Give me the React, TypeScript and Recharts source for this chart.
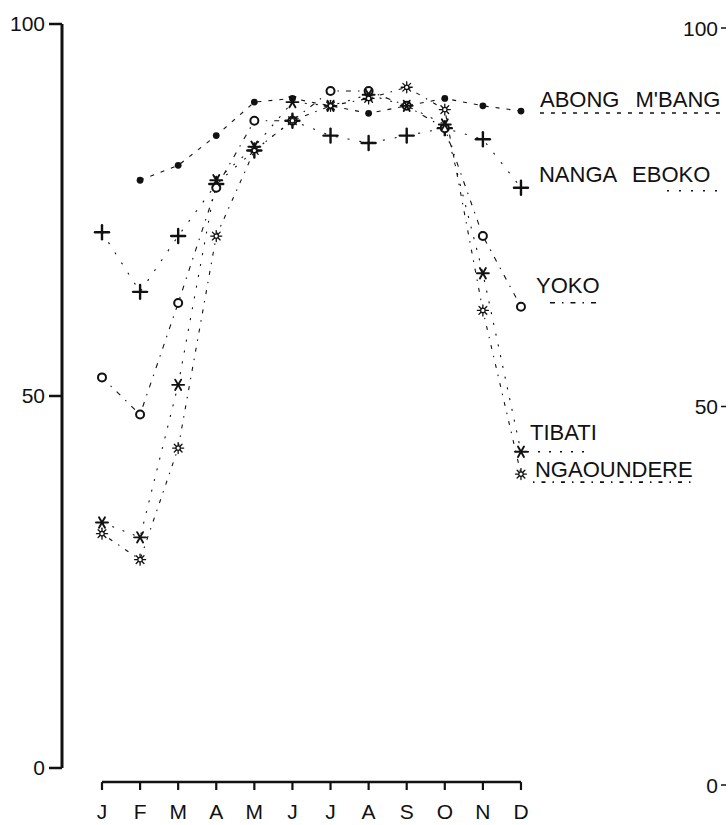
import { LineChart, Line, XAxis, YAxis, ReferenceLine, LabelList } from 'recharts';

const MONTHS = ['J', 'F', 'M', 'A', 'M', 'J', 'J', 'A', 'S', 'O', 'N', 'D'];

// monthly values (%) per station
const ABONG = [null, 79, 81, 85, 89.5, 90, 89, 88, 89, 90, 89, 88.3];
const NANGA = [72, 64, 71.5, 78.5, 83, 87, 85, 84, 85, 86, 84.5, 78];
const YOKO = [52.5, 47.5, 62.5, 78, 87, 87, 91, 91, 89, 86, 71.5, 62];
const TIBATI = [33, 31, 51.5, 79, 83.5, 89.5, 89, 90.5, 89, 86.5, 66.5, 42.5];
const NGAOUNDERE = [31.5, 28, 43, 71.5, 83, 87, 89, 90, 91.5, 88.5, 61.5, 39.5];

const Y_TICKS = [0, 50, 100];

const rows = MONTHS.map((label, m) => ({
  m,
  label,
  abong: ABONG[m],
  nanga: NANGA[m],
  yoko: YOKO[m],
  tibati: TIBATI[m],
  ngaoundere: NGAOUNDERE[m],
}));

const INK = '#111';
const FONT = '"Liberation Sans", Arial, sans-serif';

// x runs a little left of January so the y axis sits apart from the data
const X_MIN = -1.05;
const X_MAX = 15.385;
// the month axis hangs below the zero line
const X_AXIS_Y = -1.9;
const X_TICK_END = -2.96;

type Shape = 'dot' | 'plus' | 'ring' | 'aster' | 'flower';

const SERIES: {
  key: string;
  name: string;
  shape: Shape;
  dash: string;
  tag: { dx: number; dy: number; lineDy: number; lineDx: number; lineLen: number };
}[] = [
  { key: 'abong', name: "ABONG M'BANG", shape: 'dot', dash: '4 7', tag: { dx: 19, dy: -4, lineDy: 2, lineDx: 19, lineLen: 183 } },
  { key: 'nanga', name: 'NANGA EBOKO', shape: 'plus', dash: '2 10', tag: { dx: 18, dy: -6, lineDy: 5, lineDx: 146, lineLen: 52 } },
  { key: 'yoko', name: 'YOKO', shape: 'ring', dash: '5 7 1.5 7', tag: { dx: 15, dy: -14, lineDy: 6, lineDx: 29, lineLen: 48 } },
  { key: 'tibati', name: 'TIBATI', shape: 'aster', dash: '2 9', tag: { dx: 9, dy: -12, lineDy: 8, lineDx: 6, lineLen: 64 } },
  { key: 'ngaoundere', name: 'NGAOUNDERE', shape: 'flower', dash: '1.5 7 4 7', tag: { dx: 14, dy: 3, lineDy: 1, lineDx: 12, lineLen: 162 } },
];

function Marker({ cx, cy, shape }: { cx?: number; cy?: number; shape: Shape }) {
  if (cx == null || cy == null || Number.isNaN(cx) || Number.isNaN(cy)) return <g />;
  if (shape === 'dot') return <circle cx={cx} cy={cy} r={3.4} fill={INK} />;
  if (shape === 'ring') return <circle cx={cx} cy={cy} r={4} fill="#fff" stroke={INK} strokeWidth={2} />;
  if (shape === 'plus') {
    return (
      <g stroke={INK} strokeWidth={2.4} strokeLinecap="round">
        <line x1={cx - 7} y1={cy} x2={cx + 7} y2={cy} />
        <line x1={cx} y1={cy - 7} x2={cx} y2={cy + 7} />
      </g>
    );
  }
  if (shape === 'aster') {
    return (
      <g stroke={INK} strokeWidth={1.9} strokeLinecap="round">
        {[0, 60, 120].map((a) => {
          const r = (a * Math.PI) / 180;
          return <line key={a} x1={cx - 6 * Math.cos(r)} y1={cy - 6 * Math.sin(r)} x2={cx + 6 * Math.cos(r)} y2={cy + 6 * Math.sin(r)} />;
        })}
      </g>
    );
  }
  return (
    <g stroke={INK} strokeWidth={1.3} strokeLinecap="round">
      {[0, 45, 90, 135].map((a) => {
        const r = (a * Math.PI) / 180;
        return <line key={a} x1={cx - 5.5 * Math.cos(r)} y1={cy - 5.5 * Math.sin(r)} x2={cx + 5.5 * Math.cos(r)} y2={cy + 5.5 * Math.sin(r)} />;
      })}
      <circle cx={cx} cy={cy} r={2.2} fill="#fff" strokeWidth={1.2} />
    </g>
  );
}

// station name written next to its December point, underlined in the line's dash
function StationTag(props: any, s: (typeof SERIES)[number]) {
  const { x, y, index } = props;
  if (index !== MONTHS.length - 1 || x == null || y == null) return null;
  const { tag } = s;
  return (
    <g key={s.key + '-tag'}>
      <text x={x + tag.dx} y={y + tag.dy} fontFamily={FONT} fontSize={22} wordSpacing={10} fill={INK}>
        {s.name}
      </text>
      <line
        x1={x + tag.lineDx}
        x2={x + tag.lineDx + tag.lineLen}
        y1={y + tag.dy + tag.lineDy + 4}
        y2={y + tag.dy + tag.lineDy + 4}
        stroke={INK}
        strokeWidth={1.6}
        strokeDasharray={s.dash}
      />
    </g>
  );
}

// right-hand scale labels: value then a short dash
function RightTick(props: any) {
  const { x, y, payload } = props;
  return (
    <g>
      <text x={x + 30} y={y} dy="0.36em" textAnchor="end" fontFamily={FONT} fontSize={21} fill={INK}>
        {payload.value}
      </text>
      <line x1={x + 33} x2={x + 38} y1={y} y2={y} stroke={INK} strokeWidth={1.5} />
    </g>
  );
}

export default function App() {
  return (
    <div style={{ position: 'absolute', left: 0, top: 0, background: '#fff' }}>
      <LineChart width={728} height={825} data={rows} margin={{ top: 24, right: 0, bottom: 0, left: 0 }}>
        <XAxis
          dataKey="m"
          type="number"
          domain={[X_MIN, X_MAX]}
          ticks={rows.map((r) => r.m)}
          interval={0}
          tickFormatter={(v) => MONTHS[v] ?? ''}
          axisLine={false}
          tickLine={false}
          tickMargin={8}
          height={35}
          tick={{ fill: INK, fontSize: 21, fontFamily: FONT }}
        />
        <YAxis
          yAxisId="left"
          domain={[X_TICK_END, 100]}
          ticks={Y_TICKS}
          interval={0}
          width={62}
          axisLine={false}
          tickSize={13}
          tickMargin={4}
          tickLine={{ stroke: INK, strokeWidth: 2.5 }}
          tick={{ fill: INK, fontSize: 21, fontFamily: FONT }}
        />
        {/* right-hand scale, drawn slightly out of true with the left one */}
        <YAxis
          yAxisId="right"
          orientation="right"
          domain={[-0.66, 100.53]}
          allowDataOverflow
          ticks={Y_TICKS}
          interval={0}
          width={40}
          axisLine={false}
          tickLine={false}
          tickSize={0}
          tickMargin={0}
          tick={<RightTick />}
        />
        <ReferenceLine
          yAxisId="left"
          ifOverflow="visible"
          segment={[{ x: X_MIN, y: 0 }, { x: X_MIN, y: 100 }]}
          stroke={INK}
          strokeWidth={3}
        />
        <ReferenceLine
          yAxisId="left"
          ifOverflow="visible"
          segment={[{ x: 0, y: X_AXIS_Y }, { x: MONTHS.length - 1, y: X_AXIS_Y }]}
          stroke={INK}
          strokeWidth={2.5}
        />
        {rows.map((r) => (
          <ReferenceLine
            key={'mt' + r.m}
            yAxisId="left"
            ifOverflow="visible"
            segment={[{ x: r.m, y: X_AXIS_Y }, { x: r.m, y: X_TICK_END }]}
            stroke={INK}
            strokeWidth={2.2}
          />
        ))}
        {/* invisible line that gives the right-hand scale something to measure */}
        <Line
          yAxisId="right"
          dataKey="yoko"
          stroke="none"
          dot={false}
          activeDot={false}
          legendType="none"
          isAnimationActive={false}
        />
        {SERIES.map((s) => (
          <Line
            key={s.key}
            yAxisId="left"
            dataKey={s.key}
            type="linear"
            stroke={INK}
            strokeWidth={1.1}
            strokeDasharray={s.dash}
            isAnimationActive={false}
            dot={(p: any) => <Marker key={s.key + p.index} cx={p.cx} cy={p.cy} shape={s.shape} />}
            activeDot={false}
          >
            <LabelList dataKey={s.key} content={(p: any) => StationTag(p, s)} />
          </Line>
        ))}
      </LineChart>
    </div>
  );
}
